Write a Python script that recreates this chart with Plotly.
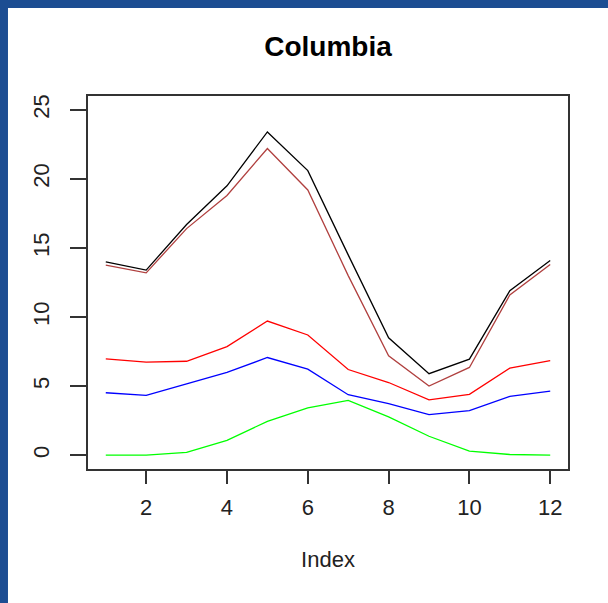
import plotly.graph_objects as go

# Monthly index positions
index = list(range(1, 13))

# Series values per month
total_black = [14.0, 13.4, 16.7, 19.5, 23.4, 20.6, 14.5, 8.5, 5.9, 6.95, 11.9, 14.1]
total_brown = [13.75, 13.2, 16.4, 18.8, 22.2, 19.2, 13.0, 7.2, 5.0, 6.35, 11.6, 13.8]
series_red = [6.97, 6.73, 6.8, 7.86, 9.71, 8.7, 6.2, 5.26, 4.0, 4.4, 6.3, 6.85]
series_blue = [4.52, 4.33, 5.17, 5.99, 7.07, 6.23, 4.38, 3.73, 2.93, 3.22, 4.25, 4.64]
series_green = [0.0, 0.0, 0.2, 1.08, 2.45, 3.42, 3.97, 2.77, 1.37, 0.29, 0.05, 0.0]

x_ticks = [2, 4, 6, 8, 10, 12]
y_ticks = [0, 5, 10, 15, 20, 25]

FONT = "Liberation Sans, Arial, sans-serif"
TEXT = "#222222"

fig = go.Figure()
for vals, col in [
    (total_black, "#000000"),
    (total_brown, "#b0403f"),
    (series_red, "#ff0000"),
    (series_blue, "#0000ff"),
    (series_green, "#00ff00"),
]:
    fig.add_trace(go.Scatter(x=index, y=vals, mode="lines",
                             line=dict(color=col, width=1.3),
                             showlegend=False, hoverinfo="skip"))

# White sheet over the blue slide background (paper coordinates)
fig.add_shape(type="rect", xref="paper", yref="paper",
              x0=-0.1667, x1=1.09, y0=-0.37, y1=1.2359,
              fillcolor="white", line=dict(width=0), layer="below")

fig.update_layout(
    width=608, height=603,
    margin=dict(l=88, r=40, t=96, b=134),
    paper_bgcolor="#1c4d92",
    plot_bgcolor="white",
    font=dict(family=FONT, color=TEXT, size=22),
    title=dict(text="<b>Columbia</b>", x=0.5, xref="paper",
               y=1 - 46 / 603, yref="container", yanchor="middle",
               font=dict(family=FONT, size=28, color="#000000")),
)
fig.update_xaxes(
    range=[0.56, 12.44], tickvals=x_ticks, ticktext=[str(v) for v in x_ticks],
    showgrid=False, zeroline=False,
    showline=True, mirror=True, linecolor="#333333", linewidth=1.5,
    ticks="outside", ticklen=13, tickwidth=1.5, tickcolor="#333333",
    tickfont=dict(size=22, color=TEXT), ticklabelstandoff=5,
    title=dict(text="Index", font=dict(size=22, color=TEXT), standoff=32),
)
fig.update_yaxes(
    range=[-1, 26], tickvals=y_ticks, ticktext=[str(v) for v in y_ticks],
    showgrid=False, zeroline=False,
    showline=True, mirror=True, linecolor="#333333", linewidth=1.5,
    ticks="outside", ticklen=16, tickwidth=1.5, tickcolor="#333333",
    tickangle=-90, tickfont=dict(size=22, color=TEXT), ticklabelstandoff=12,
)

fig.write_html("out.html")
